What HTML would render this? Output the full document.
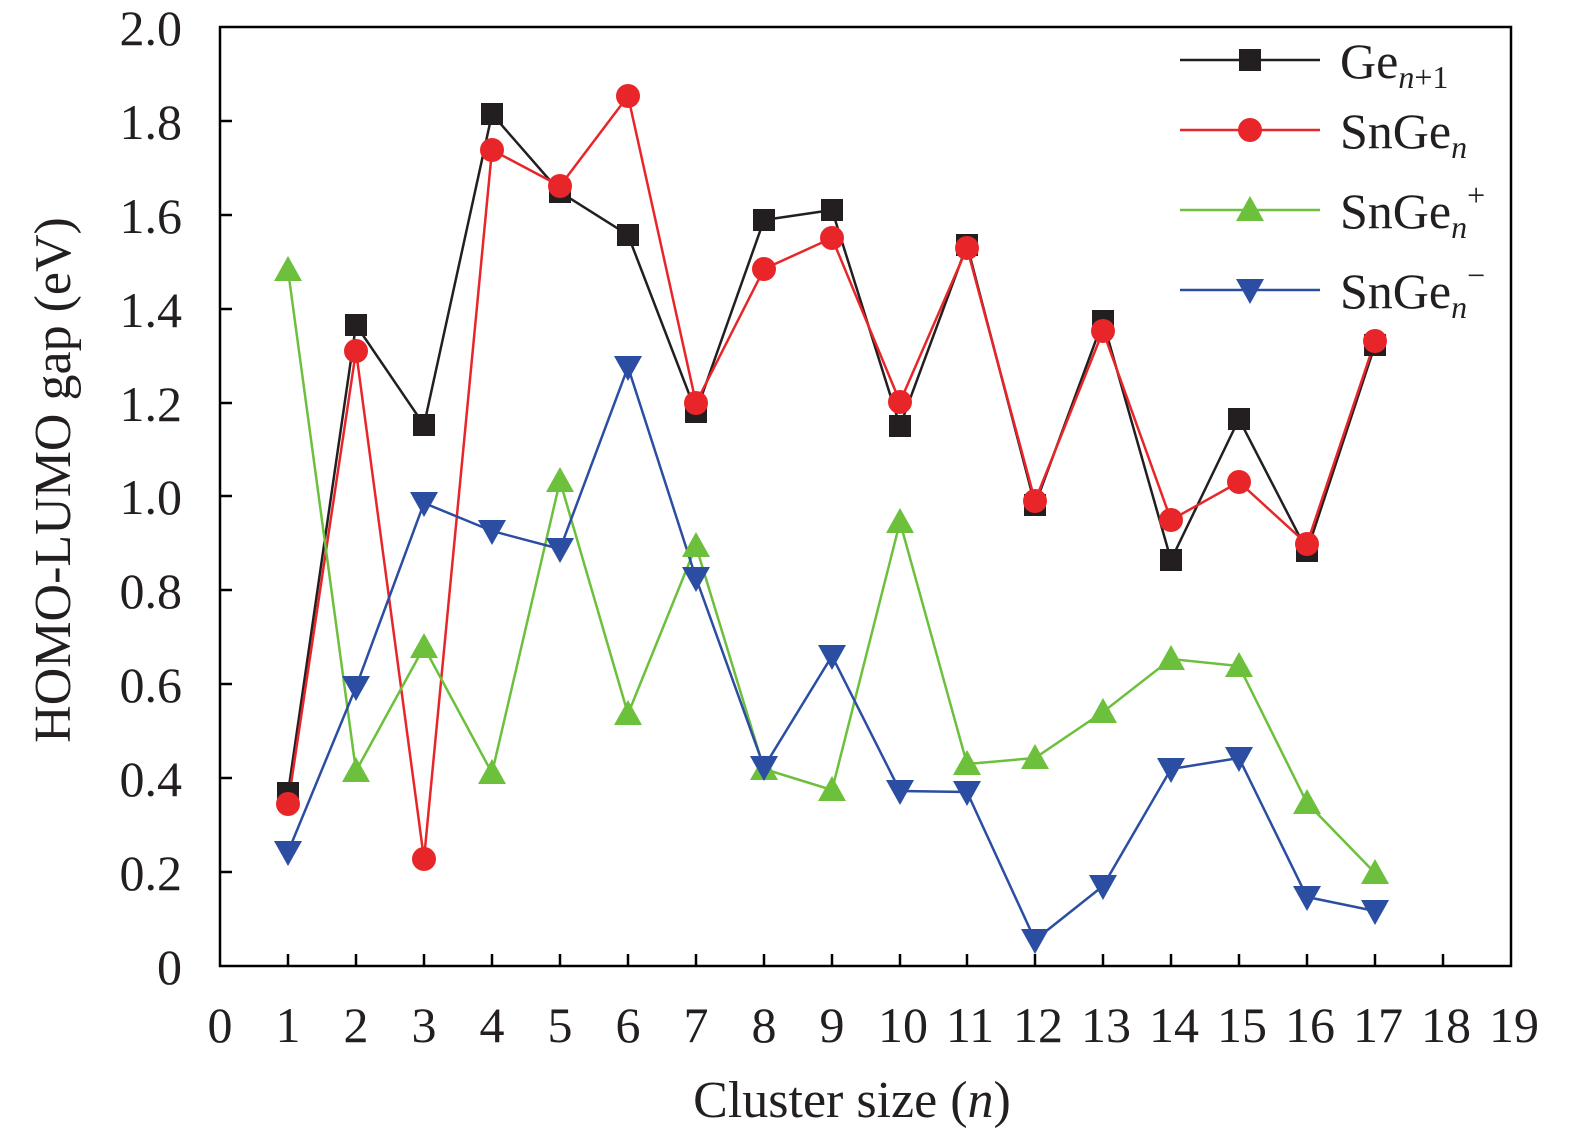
<!DOCTYPE html>
<html><head><meta charset="utf-8"><style>html,body{margin:0;padding:0;background:#fff}</style></head>
<body>
<svg width="1575" height="1139" viewBox="0 0 1575 1139" xmlns="http://www.w3.org/2000/svg" font-family="Liberation Serif, serif">
<defs>
<g id="sq"><rect x="-11" y="-11" width="22" height="22" fill="#231f20"/></g>
<g id="ci"><circle r="12" fill="#e8262a"/></g>
<g id="tu"><polygon points="0,-14 14,11 -14,11" fill="#6cc03c"/></g>
<g id="td"><polygon points="0,14 14,-11 -14,-11" fill="#2b4ea2"/></g>
</defs>
<rect x="220" y="27" width="1291" height="939" fill="none" stroke="#000" stroke-width="2.5"/>
<g stroke="#000" stroke-width="2.5">
<line x1="220" y1="872" x2="232" y2="872"/><line x1="220" y1="778" x2="232" y2="778"/><line x1="220" y1="684" x2="232" y2="684"/><line x1="220" y1="590" x2="232" y2="590"/><line x1="220" y1="496" x2="232" y2="496"/><line x1="220" y1="403" x2="232" y2="403"/><line x1="220" y1="309" x2="232" y2="309"/><line x1="220" y1="215" x2="232" y2="215"/><line x1="220" y1="121" x2="232" y2="121"/>
<line x1="288" y1="966" x2="288" y2="954"/><line x1="356" y1="966" x2="356" y2="954"/><line x1="424" y1="966" x2="424" y2="954"/><line x1="492" y1="966" x2="492" y2="954"/><line x1="560" y1="966" x2="560" y2="954"/><line x1="628" y1="966" x2="628" y2="954"/><line x1="696" y1="966" x2="696" y2="954"/><line x1="764" y1="966" x2="764" y2="954"/><line x1="832" y1="966" x2="832" y2="954"/><line x1="900" y1="966" x2="900" y2="954"/><line x1="967" y1="966" x2="967" y2="954"/><line x1="1035" y1="966" x2="1035" y2="954"/><line x1="1103" y1="966" x2="1103" y2="954"/><line x1="1171" y1="966" x2="1171" y2="954"/><line x1="1239" y1="966" x2="1239" y2="954"/><line x1="1307" y1="966" x2="1307" y2="954"/><line x1="1375" y1="966" x2="1375" y2="954"/><line x1="1443" y1="966" x2="1443" y2="954"/>
</g>
<g font-size="50" text-anchor="end" fill="#231f20">
<text x="182" y="984">0</text><text x="182" y="890">0.2</text><text x="182" y="796">0.4</text><text x="182" y="702">0.6</text><text x="182" y="608">0.8</text><text x="182" y="514">1.0</text><text x="182" y="421">1.2</text><text x="182" y="327">1.4</text><text x="182" y="233">1.6</text><text x="182" y="139">1.8</text><text x="182" y="45">2.0</text>
</g>
<g font-size="50" text-anchor="middle" fill="#231f20">
<text x="220" y="1042">0</text><text x="288" y="1042">1</text><text x="356" y="1042">2</text><text x="424" y="1042">3</text><text x="492" y="1042">4</text><text x="560" y="1042">5</text><text x="628" y="1042">6</text><text x="696" y="1042">7</text><text x="764" y="1042">8</text><text x="832" y="1042">9</text><text x="903" y="1042">10</text><text x="970" y="1042">11</text><text x="1038" y="1042">12</text><text x="1106" y="1042">13</text><text x="1174" y="1042">14</text><text x="1242" y="1042">15</text><text x="1310" y="1042">16</text><text x="1378" y="1042">17</text><text x="1446" y="1042">18</text><text x="1514" y="1042">19</text>
<text x="852" y="1117" font-size="52">Cluster size (<tspan font-style="italic">n</tspan>)</text>
<text transform="translate(70,480) rotate(-90)" font-size="52">HOMO-LUMO gap (eV)</text>
</g>
<g fill="none" stroke-width="2.5">
<polyline stroke="#231f20" points="288,793 356,325 424,425 492,114 560,192 628,235 696,412 764,220 832,210 900,426 967,245 1035,505 1103,321 1171,560 1239,419 1307,551 1375,345"/>
<polyline stroke="#e8262a" points="288,804 356,351 424,859 492,150 560,186 628,96 696,403 764,269 832,238 900,402 967,248 1035,501 1103,331 1171,520 1239,482 1307,544 1375,341"/>
<polyline stroke="#6cc03c" points="288,270 356,771 424,647 492,773 560,481 628,714 696,546 764,769 832,790 900,522 967,764 1035,758 1103,712 1171,659 1239,666 1307,803 1375,873"/>
<polyline stroke="#2b4ea2" points="288,852 356,687 424,503 492,531 560,549 628,367 696,578 764,767 832,656 900,791 967,792 1035,940 1103,886 1171,769 1239,758 1307,897 1375,911"/>
</g>
<g>
<use href="#sq" x="288" y="793"/><use href="#sq" x="356" y="325"/><use href="#sq" x="424" y="425"/><use href="#sq" x="492" y="114"/><use href="#sq" x="560" y="192"/><use href="#sq" x="628" y="235"/><use href="#sq" x="696" y="412"/><use href="#sq" x="764" y="220"/><use href="#sq" x="832" y="210"/><use href="#sq" x="900" y="426"/><use href="#sq" x="967" y="245"/><use href="#sq" x="1035" y="505"/><use href="#sq" x="1103" y="321"/><use href="#sq" x="1171" y="560"/><use href="#sq" x="1239" y="419"/><use href="#sq" x="1307" y="551"/><use href="#sq" x="1375" y="345"/>
<use href="#ci" x="288" y="804"/><use href="#ci" x="356" y="351"/><use href="#ci" x="424" y="859"/><use href="#ci" x="492" y="150"/><use href="#ci" x="560" y="186"/><use href="#ci" x="628" y="96"/><use href="#ci" x="696" y="403"/><use href="#ci" x="764" y="269"/><use href="#ci" x="832" y="238"/><use href="#ci" x="900" y="402"/><use href="#ci" x="967" y="248"/><use href="#ci" x="1035" y="501"/><use href="#ci" x="1103" y="331"/><use href="#ci" x="1171" y="520"/><use href="#ci" x="1239" y="482"/><use href="#ci" x="1307" y="544"/><use href="#ci" x="1375" y="341"/>
<use href="#tu" x="288" y="270"/><use href="#tu" x="356" y="771"/><use href="#tu" x="424" y="647"/><use href="#tu" x="492" y="773"/><use href="#tu" x="560" y="481"/><use href="#tu" x="628" y="714"/><use href="#tu" x="696" y="546"/><use href="#tu" x="764" y="769"/><use href="#tu" x="832" y="790"/><use href="#tu" x="900" y="522"/><use href="#tu" x="967" y="764"/><use href="#tu" x="1035" y="758"/><use href="#tu" x="1103" y="712"/><use href="#tu" x="1171" y="659"/><use href="#tu" x="1239" y="666"/><use href="#tu" x="1307" y="803"/><use href="#tu" x="1375" y="873"/>
<use href="#td" x="288" y="852"/><use href="#td" x="356" y="687"/><use href="#td" x="424" y="503"/><use href="#td" x="492" y="531"/><use href="#td" x="560" y="549"/><use href="#td" x="628" y="367"/><use href="#td" x="696" y="578"/><use href="#td" x="764" y="767"/><use href="#td" x="832" y="656"/><use href="#td" x="900" y="791"/><use href="#td" x="967" y="792"/><use href="#td" x="1035" y="940"/><use href="#td" x="1103" y="886"/><use href="#td" x="1171" y="769"/><use href="#td" x="1239" y="758"/><use href="#td" x="1307" y="897"/><use href="#td" x="1375" y="911"/>
</g>
<g stroke-width="2.5">
<line x1="1180" y1="60" x2="1320" y2="60" stroke="#231f20"/><use href="#sq" x="1250" y="60"/>
<line x1="1180" y1="130" x2="1320" y2="130" stroke="#e8262a"/><use href="#ci" x="1250" y="130"/>
<line x1="1180" y1="210" x2="1320" y2="210" stroke="#6cc03c"/><use href="#tu" x="1250" y="210"/>
<line x1="1180" y1="290" x2="1320" y2="290" stroke="#2b4ea2"/><use href="#td" x="1250" y="290"/>
</g>
<g font-size="50" fill="#231f20">
<text x="1340" y="78">Ge<tspan font-size="32" font-style="italic" dy="10">n</tspan><tspan font-size="32">+1</tspan></text>
<text x="1340" y="148">SnGe<tspan font-size="32" font-style="italic" dy="10">n</tspan></text>
<text x="1340" y="228">SnGe<tspan font-size="32" font-style="italic" dy="10">n</tspan><tspan font-size="32" dy="-32">+</tspan></text>
<text x="1340" y="308">SnGe<tspan font-size="32" font-style="italic" dy="10">n</tspan><tspan font-size="32" dy="-32">−</tspan></text>
</g>
</svg>
</body></html>
